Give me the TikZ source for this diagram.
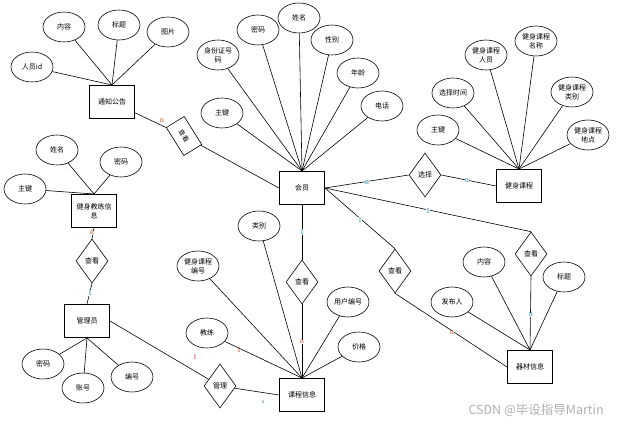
\documentclass[tikz,border=0pt]{standalone}
\usepackage{fontspec}
\usepackage{xcolor}
\setmainfont{Noto Sans CJK SC}
\newfontfamily\lblfont{Liberation Serif}
\usetikzlibrary{shapes.geometric}
\definecolor{lblred}{RGB}{190,60,30}
\definecolor{lblteal}{RGB}{0,130,150}
\definecolor{markgray}{RGB}{175,175,175}

\begin{document}
\begin{tikzpicture}[
  x=1pt, y=-1pt, line width=0.6pt,
  entity/.style={rectangle,draw,line width=1pt,minimum width=45pt,minimum height=33pt,inner sep=1pt,align=center,font=\fontsize{7}{9}\selectfont},
  attr/.style={ellipse,draw,minimum width=42pt,minimum height=30pt,inner sep=0pt,align=center,font=\fontsize{7}{9}\selectfont},
  rel/.style={diamond,draw,minimum width=32pt,minimum height=44pt,inner sep=0pt,font=\fontsize{7}{9}\selectfont},
  rlbl/.style={text=lblred,fill=white,inner sep=0.3pt,font=\lblfont\fontsize{7.5}{7.5}\selectfont},
  tlbl/.style={text=lblteal,fill=white,inner sep=0.3pt,font=\lblfont\fontsize{7.5}{7.5}\selectfont}
]
  \useasboundingbox (0,0) rectangle (619,428);
  % entities
  \node[entity] (tzgg) at (112,102) {通知公告};
  \node[entity] (hy) at (302,188) {会员};
  \node[entity] (jskc) at (519,186) {健身课程};
  \node[entity] (jlxx) at (94,211) {健身教练信\\息};
  \node[entity] (gly) at (87,321) {管理员};
  \node[entity] (kcxx) at (302,395) {课程信息};
  \node[entity] (qcxx) at (530,367) {器材信息};
  % relationships
  \node[draw,rectangle,minimum width=33pt,minimum height=21pt,inner sep=0pt,rotate=-58,font=\fontsize{6.5}{8}\selectfont] (r1) at (184,136) {查看};
  \node[rel] (r2) at (425,175) {选择};
  \node[rel] (r3) at (531,254) {查看};
  \node[rel] (r4) at (395,271) {查看};
  \node[rel] (r5) at (302,282) {查看};
  \node[rel] (r6) at (92,261) {查看};
  \node[rel] (r7) at (220,386) {管理};
  % attributes of 通知公告
  \node[attr] (a1) at (64,27) {内容};
  \node[attr] (a2) at (119,25) {标题};
  \node[attr] (a3) at (168,32) {图片};
  \node[attr] (a4) at (32,67) {人员id};
  % attributes of 会员
  \node[attr] (b1) at (218,55) {身份证号\\码};
  \node[attr] (b2) at (258,30) {密码};
  \node[attr] (b3) at (299,18) {姓名};
  \node[attr] (b4) at (332,40) {性别};
  \node[attr] (b5) at (358,73) {年龄};
  \node[attr] (b6) at (382,106) {电话};
  \node[attr] (b7) at (222,113) {主键};
  % attributes of 健身课程
  \node[attr] (c1) at (438,130) {主键};
  \node[attr] (c2) at (453,93) {选择时间};
  \node[attr] (c3) at (486,55) {健身课程\\人员};
  \node[attr] (c4) at (536,41) {健身课程\\名称};
  \node[attr] (c5) at (572,92) {健身课程\\类别};
  \node[attr] (c6) at (588,135) {健身课程\\地点};
  % attributes of 健身教练信息
  \node[attr] (d1) at (57,150) {姓名};
  \node[attr] (d2) at (121,162) {密码};
  \node[attr] (d3) at (25,189) {主键};
  % attributes of 管理员
  \node[attr] (e1) at (43,364) {密码};
  \node[attr] (e2) at (83,388) {账号};
  \node[attr] (e3) at (132,377) {编号};
  % attributes of 课程信息
  \node[attr] (f1) at (198,266) {健身课程\\编号};
  \node[attr] (f2) at (259,226) {类别};
  \node[attr] (f3) at (348,302) {用户编号};
  \node[attr] (f4) at (359,347) {价格};
  \node[attr] (f5) at (207,333) {教练};
  % attributes of 器材信息
  \node[attr] (g1) at (452,302) {发布人};
  \node[attr] (g2) at (484,262) {内容};
  \node[attr] (g3) at (564,277) {标题};
  % attribute lines
  \foreach \a in {a1,a2,a3,a4} \draw (\a) -- (tzgg.north);
  \foreach \a in {b1,b2,b3,b4,b5,b6,b7} \draw (\a) -- (hy.north);
  \foreach \a in {c1,c2,c3,c4,c5,c6} \draw (\a) -- (jskc.north);
  \foreach \a in {d1,d2,d3} \draw (\a) -- (jlxx.north);
  \foreach \a in {e1,e2,e3} \draw (\a) -- (gly.south);
  \foreach \a in {f1,f2,f3,f4,f5} \draw (\a) -- (kcxx.north);
  \foreach \a in {g1,g2,g3} \draw (\a) -- (qcxx.north);
  % relationship lines
  \draw (tzgg) -- (r1);
  \draw (r1) -- (hy.west);
  \draw (hy.east) -- (r2.west);
  \draw (r2.east) -- (jskc.west);
  \draw (hy.east) -- (r3.north);
  \draw (r3.south) -- (qcxx.north);
  \draw (hy.east) -- (r4.north);
  \draw (r4.south) -- (qcxx.west);
  \draw (hy.south) -- (r5.north);
  \draw (r5.south) -- (kcxx.north);
  \draw (jlxx.south) -- (r6.north);
  \draw (r6.south) -- (gly.north);
  \draw (gly.east) -- (r7);
  \draw (r7) -- (kcxx.west);
  % cardinalities
  \node[rlbl] (l1) at (162,121) {n};
  \node[rlbl] (l2) at (92,233) {n};
  \node[tlbl] (l3) at (90,293) {1};
  \node[tlbl] (l4) at (367,183) {n};
  \node[tlbl] (l5) at (467,181) {n};
  \node[tlbl] (l6) at (428,211) {1};
  \node[tlbl] (l7) at (360,220) {1};
  \node[tlbl] (l8) at (302,232) {1};
  \node[rlbl] (l9) at (302,342) {n};
  \node[tlbl] (l10) at (531,315) {n};
  \node[rlbl] (l11) at (452,333) {n};
  \node[rlbl] (l12) at (195,357) {1};
  \node[rlbl,fill=none] (l13) at (239,350) {1};
  \node[tlbl,fill=none,font=\lblfont\fontsize{5}{5}\selectfont] (l14) at (263,402) {n};
  % watermark
  \node[text=markgray,font=\fontsize{12.5}{14}\selectfont,anchor=east,inner sep=0pt] (wm) at (604,410) {CSDN @毕设指导Martin};
\end{tikzpicture}
\end{document}
